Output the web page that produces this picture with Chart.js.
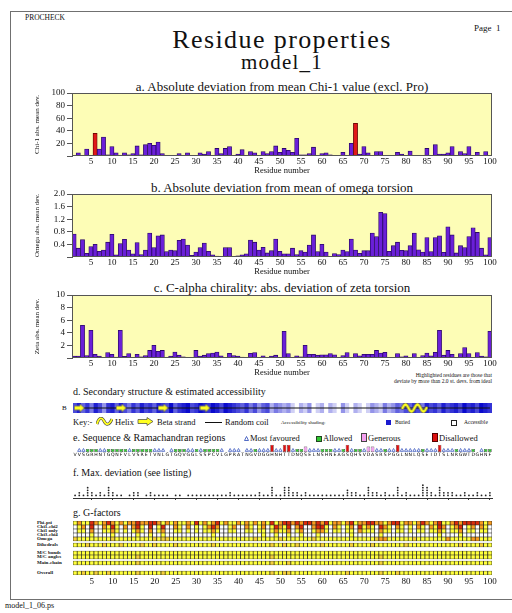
<!DOCTYPE html>
<html>
<head>
<meta charset="utf-8">
<title>Residue properties</title>
<script src="https://cdn.jsdelivr.net/npm/chart.js@4.4.0/dist/chart.umd.min.js"></script>
<style>
    body { margin: 0; width: 512px; height: 613px; position: relative; overflow: hidden; background: #fff; color: #111; font-family: "Liberation Serif", "DejaVu Serif", serif; }
    .t { position: absolute; white-space: nowrap; line-height: 1; }
    .c { transform: translateX(-50%); }
    canvas { position: absolute; }
    #frame { position: absolute; left: 10px; top: 11px; width: 502px; height: 587px; border: 1.5px solid #707070; border-right: none; }
    .sw { position: absolute; }
</style>
</head>
<body>
<div id="frame"></div>

<div class="t" style="left:25px;top:14px;font-size:7.5px">PROCHECK</div>
<div class="t" style="left:474px;top:24px;font-size:9px">Page&nbsp; 1</div>
<div class="t c" style="left:282px;top:27px;font-size:26px;letter-spacing:1.4px">Residue properties</div>
<div class="t c" style="left:282px;top:52px;font-size:21px;letter-spacing:1.2px">model_1</div>

<div class="t c" style="left:282px;top:80px;font-size:13px">a. Absolute deviation from mean Chi-1 value (excl. Pro)</div>
<div class="t c" style="left:282px;top:181px;font-size:13px">b. Absolute deviation from mean of omega torsion</div>
<div class="t c" style="left:282px;top:281px;font-size:13px">c. C-alpha chirality: abs. deviation of zeta torsion</div>
<div class="t" style="right:20px;top:372px;font-size:5.5px;line-height:6px;text-align:right">Highlighted residues are those that<br>deviate by more than 2.0 st. devs. from ideal</div>

<div class="t" style="left:73px;top:387px;font-size:10px">d. Secondary structure &amp; estimated accessibility</div>
<div class="t" style="left:62px;top:405px;font-size:7px">B</div>
<div class="t" style="left:73px;top:418px;font-size:8.5px">Key:-</div>
<svg class="sw" width="17" height="9" style="left:96px;top:417px"><path d="M1,7 C3,0 6,0 8,4 S13,9 16,2" fill="none" stroke="#444" stroke-width="3"/><path d="M1,7 C3,0 6,0 8,4 S13,9 16,2" fill="none" stroke="#ffff20" stroke-width="1.8"/></svg>
<div class="t" style="left:115px;top:418px;font-size:8.5px">Helix</div>
<svg class="sw" width="17" height="9" style="left:137px;top:417px"><polygon points="1,2.5 10,2.5 10,0.5 16,4.5 10,8.5 10,6.5 1,6.5" fill="#ffff20" stroke="#444" stroke-width="0.7"/></svg>
<div class="t" style="left:157px;top:418px;font-size:8.5px">Beta strand</div>
<div class="sw" style="left:205px;top:421.5px;width:17px;height:1.5px;background:#111"></div>
<div class="t" style="left:225px;top:418px;font-size:8.5px">Random coil</div>
<div class="t" style="left:281px;top:420px;font-size:5px">Accessibility shading:</div>
<div class="sw" style="left:386px;top:419.5px;width:5px;height:5px;background:#1a1ad0"></div>
<div class="t" style="left:395px;top:419.5px;font-size:5.5px">Buried</div>
<div class="sw" style="left:451px;top:419.5px;width:4px;height:4px;border:0.8px solid #222;background:#fff"></div>
<div class="t" style="left:464px;top:419.5px;font-size:5.5px">Accessible</div>

<div class="t" style="left:73px;top:433px;font-size:10px">e. Sequence &amp; Ramachandran regions</div>
<svg class="sw" width="5" height="5" style="left:244px;top:435.5px"><polygon points="2.5,0.5 4.5,4.5 0.5,4.5" fill="none" stroke="#2848b8" stroke-width="0.8"/></svg>
<div class="t" style="left:250px;top:434px;font-size:8.5px">Most favoured</div>
<div class="sw" style="left:316px;top:435.5px;width:4px;height:4px;background:#30c830;border:0.6px solid #224422"></div>
<div class="t" style="left:323px;top:434px;font-size:8.5px">Allowed</div>
<div class="sw" style="left:361px;top:433px;width:3.5px;height:7px;background:#f4a0f0;border:0.6px solid #444"></div>
<div class="t" style="left:368px;top:434px;font-size:8.5px">Generous</div>
<div class="sw" style="left:432px;top:433px;width:3.5px;height:7px;background:#dd1010;border:0.6px solid #500"></div>
<div class="t" style="left:439px;top:434px;font-size:8.5px">Disallowed</div>

<div class="t" style="left:73px;top:468px;font-size:10px">f. Max. deviation (see listing)</div>
<div class="t" style="left:73px;top:508px;font-size:10px">g. G-factors</div>
<div id="gLabels"></div>

<div class="t" style="left:5px;top:602px;font-size:8px">model_1_06.ps</div>

<canvas id="chiChart" width="482" height="92" style="left:30px;top:86px"></canvas>
<canvas id="omegaChart" width="482" height="92" style="left:30px;top:187px"></canvas>
<canvas id="zetaChart" width="482" height="92" style="left:30px;top:288px"></canvas>
<canvas id="ssChart" width="512" height="20" style="left:0;top:398px"></canvas>
<canvas id="ramaChart" width="512" height="18" style="left:0;top:440px"></canvas>
<canvas id="devChart" width="512" height="26" style="left:0;top:476px"></canvas>
<canvas id="gChart" width="512" height="68" style="left:0;top:519px"></canvas>

<script>
const residues = Array.from({ length: 100 }, (_, i) => String(i + 1));

// a. chi-1 deviation (degrees)
const chiDev = [
    0, 5, 0, 11, 0, 36, 11, 30, 2, 15,
    5, 0, 5, 2, 4, 16, 2, 18, 20, 17,
    22, 4, 0, 1, 1, 4, 1, 5, 0, 1,
    5, 3, 7, 1, 12, 4, 12, 15, 0, 3,
    10, 1, 7, 5, 1, 7, 4, 7, 16, 6,
    12, 9, 6, 28, 2, 2, 4, 14, 0, 4,
    5, 2, 0, 0, 6, 1, 20, 52, 3, 15,
    5, 0, 7, 7, 1, 0, 0, 6, 3, 0,
    8, 1, 1, 1, 12, 1, 18, 3, 3, 5,
    15, 1, 7, 4, 15, 1, 6, 1, 7, 0
];
const chiHighlighted = [6, 68];

// b. omega deviation
const omegaDev = [
    0.73, 0.28, 0.55, 0.12, 0.33, 0.40, 0.18, 0.22, 0.47, 0.72,
    0.07, 0.43, 0.56, 0.22, 0.10, 0.46, 0.08, 0.22, 0.76, 0.30,
    0.67, 0.70, 0.17, 0.22, 0.20, 0.53, 0.57, 0.38, 0.05, 0.16,
    0.30, 0.44, 0.18, 0.07, 0.03, 0.00, 0.30, 0.30, 0.00, 0.04,
    0.07, 0.10, 0.54, 0.47, 0.22, 0.31, 0.13, 0.20, 0.57, 0.18,
    0.10, 0.10, 0.28, 0.08, 0.20, 0.16, 0.38, 0.70, 0.17, 0.40,
    0.16, 0.00, 0.11, 0.08, 0.22, 0.17, 0.57, 0.22, 0.12, 0.20,
    0.20, 0.76, 0.65, 1.42, 1.38, 0.18, 0.36, 0.47, 0.21, 0.20,
    0.36, 0.76, 0.23, 0.16, 0.62, 0.17, 0.62, 0.67, 0.15, 0.96,
    0.70, 0.13, 0.36, 0.30, 0.65, 0.93, 0.78, 0.28, 0.07, 0.62
];

// c. zeta deviation
const zetaDev = [
    0.3, 0.3, 5.2, 0.4, 4.4, 0.6, 0.3, 0.1, 0.85, 0.6,
    0.15, 4.4, 0.25, 0.7, 0.1, 0.6, 0.2, 0.4, 1.2, 2.0,
    1.05, 1.2, 0, 0.3, 0.95, 0.45, 0.2, 0.1, 0, 1.2,
    0.3, 0.45, 0.7, 0.8, 0.95, 0.35, 0, 0.75, 0.4, 0.3,
    0.15, 0, 0.75, 0.85, 0, 0.35, 0.1, 0.3, 0.45, 0.1,
    4.25, 0.7, 0.1, 0.35, 0.2, 2.0, 0.6, 0.6, 0.45, 0.5,
    0.5, 0.7, 0.5, 0, 0.4, 0.85, 0, 0.7, 0.35, 0.6,
    0.6, 0.6, 1.2, 0.8, 0.9, 0, 0, 0.7, 0.2, 0.35,
    0.1, 0.7, 0, 0.4, 0.8, 0.35, 0.9, 4.4, 0.45, 1.2,
    0.6, 0, 0.7, 1.65, 0.7, 0, 0.85, 0.3, 0.2, 4.25
];

// d. accessibility (0 = accessible, 9 = buried) and secondary structure
const accessibility = [
    6, 8, 5, 7, 4, 8, 6, 3, 7, 8,
    5, 8, 6, 4, 7, 5, 8, 6, 7, 5,
    8, 7, 6, 9, 5, 7, 8, 9, 6, 7,
    9, 8, 7, 9, 8, 6, 9, 8, 7, 6,
    5, 7, 4, 6, 3, 5, 6, 2, 4, 3,
    2, 3, 1, 0, 2, 1, 3, 0, 1, 2,
    0, 2, 1, 0, 3, 1, 0, 2, 1, 0,
    1, 3, 2, 1, 4, 2, 3, 5, 4, 6,
    5, 7, 6, 4, 8, 6, 7, 5, 8, 6,
    7, 8, 6, 9, 7, 8, 6, 9, 8, 7
];
const strandResidues = [2, 12, 22, 32];
const helixResidues = [82];

// e. sequence and Ramachandran regions (A most favoured, B allowed, G generous, D disallowed)
const sequence = "VVSGRHNTGQNFVLVSRETVNLGTGQVGGLSSPCVLGPRATNGVDGGHNHTTDNQSELNSHNEAGSQHSVDASRSPGGLNNLQSEIDTSLNRGWTDGHNF".split("");
const ramaRegions = "-AABBBAABB BBBABBBBBA AA-ABBBAAB ABBBBA-AAA -AABAAADAA DDABBGAAAB BBAABDABBA GGAABAADAA AAABAAADAA ABAAAB-ABB".replace(/ /g, "").split("");

// f. max deviation (stacked markers)
const maxDeviation = [
    1, 2, 1, 4, 2, 1, 2, 1, 4, 2,
    1, 1, 0, 1, 2, 2, 0, 1, 2, 1,
    1, 1, 1, 0, 1, 1, 0, 1, 1, 1,
    1, 1, 1, 1, 1, 1, 1, 2, 1, 1,
    1, 1, 1, 1, 2, 1, 1, 4, 1, 1,
    4, 4, 2, 2, 1, 2, 1, 1, 1, 1,
    1, 1, 1, 1, 1, 3, 2, 2, 1, 1,
    4, 2, 2, 1, 2, 1, 1, 4, 1, 2,
    1, 1, 1, 5, 4, 2, 1, 4, 2, 2,
    2, 1, 1, 2, 1, 1, 2, 1, 1, 2
];
const devLevels = [1, 2, 3, 4, 5];

// g. G-factor classes (Y good, L fair, O poor, R bad, W none)
const gPhiPsi   = "YOYYROYORO YOYOOROORR OYOYOYYOYR YOYORYOYYO YOYOYOYRYO RRORORRORO RYOOYORYOO RROOYORRYO OYOROYORYY ORORRRROYO";
const gChi1Chi2 = "WYOWRWWOYR YWOWORYWRW YRWWOYWOWY WYOROWWYOW WOYWYOWYRO YRWORWWORR YWOYWYOWRY OYWROYWOYW YWOYWOYROW YORWYOWOYW";
const gChi1Only = "WYYWOWWYYO YWYWYOYWOW YOWWYYWYWY WYYOYWWYYW WYYWYYWYOY YOWYOWWYOO YWYYWYYWOY YYWOYYWYYW YWYYWYYOYW YYOWYYWYYW";
const gChi3Chi4 = "WWWWYWWWWY WWWWWYWWYW WYWWWWWWWW WWWYWWWWWW WWWWWYWWYW WYWWYWWWYW WWWWWWYWWW WWWYWWWWWW WWWWWWWYWW WWYWWWWWWW";
const gOmega    = "LYYYYYYYYL YYYYYYYYYL YLLYYYYYYY YYYYYYYYYY YYYLYYYYYL YYYYYYYLYY YYYYYYYYYY YYLOOYYYYY YLYYYYYYYO YYYYYOOYYY";
const gDihedral = "YYYLYYYLYY YLYYYYLYYL YYYYLYYYYY YYYLYYYYYY YYYYYYYLYY LYYLYYYYYL YYYYYYLYYY YLYYYYYYYL YYYYYYYYYY YYLYYYYLYY";
const gMcBonds  = "YYYYYYYYYY YYYYYYYYYY YYYYYYYYYY YYYYYYYYYY YYYYYYYYYY YYYYYYYYYY YYYYYYYYYY YYYYYYYYYY YYYYYYYYYY YYYYYYYYYY";
const gMcAngles = "YYYYYYYYYY YYYYYLYYYY YYYYYYYYYY YYYYYYYYYY YYYYYYYLYY YYYYYYYYYY YYYYYYYYYY YYYLYYYYYY YYYYYYYYYY YYYYYYYYYY";
const gMainMain = "YYYYYYYYYY YYYYYLYYYY YYYYYYYYYY YYYYYYYYYY YYYYYYYLYY YLYYYYYYYY YYYYYYYYYY YYYLYYYYYY YYYYYYYYYY YYYYYYYYYY";
const gOverall  = "YYLYYLYYLY YYYYYLYYYY YLYYYYYYYY YYYYYYYYYY YYYYYYYLYY LLYYYYYYYY YYYYYLYYYY YYYLYYYLYY YYYYYYYLYY YYYYYYYYYY";

Chart.defaults.font.family = '"Liberation Serif", "DejaVu Serif", serif';
Chart.defaults.color = "#111";
Chart.defaults.animation = false;
Chart.defaults.responsive = false;
Chart.defaults.events = [];
Chart.defaults.plugins.legend.display = false;
Chart.defaults.plugins.tooltip.enabled = false;

const plotBox = (fill, stroke) => ({
    id: "plotBox",
    beforeDraw(chart) {
        const { ctx, chartArea: a } = chart;
        ctx.save();
        ctx.fillStyle = fill;
        ctx.fillRect(a.left, a.top, a.width, a.height);
        ctx.restore();
    },
    afterDatasetsDraw(chart) {
        const { ctx, chartArea: a } = chart;
        ctx.save();
        ctx.strokeStyle = stroke;
        ctx.lineWidth = 1;
        ctx.strokeRect(a.left + 0.5, a.top + 0.5, a.width - 1, a.height - 1);
        ctx.restore();
    }
});

const everyFifth = (v, i) => (i + 1) % 5 === 0 ? residues[i] : "";

const makeDevChart = (id, values, yMax, yStep, decimals, yTitle, highlighted) => {
    const isHot = (i) => highlighted.includes(i + 1);

    return new Chart(document.getElementById(id), {
        type: "bar",
        data: {
            labels: residues,
            datasets: [{
                data: values,
                backgroundColor: values.map((v, i) => isHot(i) ? "#e01818" : "#6a1fd8"),
                borderColor: values.map((v, i) => isHot(i) ? "#5a0000" : "#2a0866"),
                borderWidth: 0.8,
                barPercentage: 1,
                categoryPercentage: 1
            }]
        },
        options: {
            layout: { padding: { top: 7, right: 20 } },
            scales: {
                x: {
                    grid: { display: false, drawTicks: false },
                    border: { display: false },
                    ticks: { autoSkip: false, maxRotation: 0, padding: 0, font: { size: 9 }, callback: everyFifth },
                    title: { display: true, text: "Residue number", font: { size: 8.5 }, padding: { top: 0, bottom: 2 } },
                    afterFit: (s) => { s.height = 22; s.paddingLeft = 0; s.paddingRight = 0; }
                },
                y: {
                    min: 0,
                    max: yMax,
                    grid: { drawOnChartArea: false, tickLength: 5, color: "#555" },
                    border: { color: "#555" },
                    ticks: {
                        stepSize: yStep,
                        autoSkip: false,
                        padding: 2,
                        font: { size: 9 },
                        callback: (v) => v === 0 ? "" : v.toFixed(decimals)
                    },
                    title: { display: true, text: yTitle, font: { size: 7 }, padding: { top: 3, bottom: 0 } },
                    afterFit: (s) => { s.width = 42; s.paddingTop = 0; s.paddingBottom = 0; }
                }
            }
        },
        plugins: [plotBox("#fdfdb6", "#555")]
    });
};

makeDevChart("chiChart", chiDev, 100, 20, 0, "Chi-1 abs. mean dev.", chiHighlighted);
makeDevChart("omegaChart", omegaDev, 2.0, 0.4, 1, "Omega abs. mean dev.", []);
makeDevChart("zetaChart", zetaDev, 10, 2, 0, "Zeta abs. mean dev.", []);

// small images used as point styles for the secondary structure strip
const arrowImg = (() => {
    const c = document.createElement("canvas");
    c.width = 11;
    c.height = 9;
    const g = c.getContext("2d");
    g.beginPath();
    g.moveTo(0.5, 2.5); g.lineTo(6, 2.5); g.lineTo(6, 0.5); g.lineTo(10.5, 4.5);
    g.lineTo(6, 8.5); g.lineTo(6, 6.5); g.lineTo(0.5, 6.5); g.closePath();
    g.fillStyle = "#ffff20";
    g.fill();
    g.strokeStyle = "#666";
    g.lineWidth = 0.7;
    g.stroke();
    return c;
})();

const helixImg = (() => {
    const c = document.createElement("canvas");
    c.width = 28;
    c.height = 12;
    const g = c.getContext("2d");
    const wave = () => {
        g.beginPath();
        for (let x = 2; x <= 26; x += 0.5) {
            const y = 6 - 3.5 * Math.sin((x - 2) / 24 * 4 * Math.PI);
            x === 2 ? g.moveTo(x, y) : g.lineTo(x, y);
        }
    };
    g.lineCap = "round";
    wave(); g.strokeStyle = "#555"; g.lineWidth = 3.6; g.stroke();
    wave(); g.strokeStyle = "#ffff20"; g.lineWidth = 2.2; g.stroke();
    return c;
})();

const shade = (v) => {
    const t = Math.pow(v / 9, 0.75);
    const rg = Math.round(255 - t * 245);
    const b = Math.round(255 - t * 50);
    return `rgb(${rg},${rg},${b})`;
};

const stripLayout = (top, bottom) => ({ padding: { left: 73, right: 20, top: top, bottom: bottom } });

new Chart(document.getElementById("ssChart"), {
    type: "bar",
    data: {
        labels: residues,
        datasets: [
            {
                type: "line",
                data: residues.map((r) => strandResidues.includes(+r) ? 0.5 : null),
                showLine: false,
                pointStyle: arrowImg,
                order: 1
            },
            {
                type: "line",
                data: residues.map((r) => helixResidues.includes(+r) ? 0.5 : null),
                showLine: false,
                pointStyle: helixImg,
                order: 1
            },
            {
                type: "line",
                data: residues.map(() => 0.5),
                borderColor: "#111",
                borderWidth: 1.2,
                pointRadius: 0,
                order: 2
            },
            {
                data: accessibility.map(() => 1),
                backgroundColor: accessibility.map(shade),
                borderWidth: 0,
                barPercentage: 1,
                categoryPercentage: 1,
                order: 3
            }
        ]
    },
    options: {
        layout: stripLayout(3, 3),
        scales: {
            x: { display: false, offset: true },
            y: { display: false, min: 0, max: 1 }
        }
    }
});

const regionHeight = { D: 1, G: 0.75, B: 0.42 };
const regionFill = { D: "#dd1010", G: "#f4a0f0", B: "#30c830" };

new Chart(document.getElementById("ramaChart"), {
    type: "bar",
    data: {
        labels: sequence,
        datasets: [
            {
                type: "line",
                data: ramaRegions.map((c) => c === "A" ? 0.22 : null),
                showLine: false,
                pointStyle: "triangle",
                pointRadius: 1.9,
                pointBorderColor: "#2848b8",
                pointBackgroundColor: "rgba(0,0,0,0)",
                pointBorderWidth: 0.7,
                order: 1
            },
            {
                data: ramaRegions.map((c) => regionHeight[c] ? [0, regionHeight[c]] : null),
                backgroundColor: ramaRegions.map((c) => regionFill[c] || "transparent"),
                borderColor: "#333",
                borderWidth: 0.6,
                borderSkipped: false,
                barPercentage: 0.85,
                categoryPercentage: 1,
                order: 2
            }
        ]
    },
    options: {
        layout: stripLayout(3, 0),
        scales: {
            x: {
                grid: { display: false, drawTicks: false },
                border: { display: false },
                ticks: { autoSkip: false, maxRotation: 0, minRotation: 0, padding: 0.5, color: "#000", font: { size: 4.6, family: '"DejaVu Sans", sans-serif' } },
                afterFit: (s) => { s.height = 6; s.paddingLeft = 0; s.paddingRight = 0; }
            },
            y: { display: false, min: 0, max: 1 }
        }
    }
});

new Chart(document.getElementById("devChart"), {
    type: "line",
    data: {
        labels: residues,
        datasets: devLevels.map((k) => ({
            data: maxDeviation.map((v) => v >= k ? k : null),
            showLine: false,
            pointRadius: 0.9,
            pointBackgroundColor: "#222",
            pointBorderWidth: 0
        }))
    },
    options: {
        layout: stripLayout(2, 2),
        scales: {
            x: {
                offset: true,
                ticks: { display: false },
                grid: {
                    drawOnChartArea: false,
                    offset: false,
                    tickLength: 2,
                    color: (ctx) => (ctx.index + 1) % 5 === 0 ? "#333" : "rgba(0,0,0,0)"
                },
                border: { color: "#333" },
                afterFit: (s) => { s.paddingLeft = 0; s.paddingRight = 0; }
            },
            y: { display: false, min: 0, max: 7 }
        }
    }
});

// G-factor rows from bottom to top; gaps keep the block spacing
const gColours = { Y: "#ffff3c", L: "#f4d03a", O: "#f99c1e", R: "#dd2a0a", W: "#ffffff" };
const gRows = [
    { label: "Overall", codes: gOverall, h: 4 },
    { h: 6 },
    { label: "Main-chain", codes: gMainMain, h: 4 },
    { h: 2 },
    { label: "M/C angles", codes: gMcAngles, h: 4 },
    { label: "M/C bonds", codes: gMcBonds, h: 4 },
    { h: 4 },
    { label: "Dihedrals", codes: gDihedral, h: 4 },
    { h: 2 },
    { label: "Omega", codes: gOmega, h: 4 },
    { label: "Chi3-chi4", codes: gChi3Chi4, h: 4 },
    { label: "Chi1 only", codes: gChi1Only, h: 4 },
    { label: "Chi1-chi2", codes: gChi1Chi2, h: 4 },
    { label: "Phi-psi", codes: gPhiPsi, h: 4 }
];

const gChart = new Chart(document.getElementById("gChart"), {
    type: "bar",
    data: {
        labels: residues,
        datasets: gRows.map((row) => {
            const codes = row.codes ? row.codes.replace(/ /g, "").split("") : residues.map(() => null);
            return {
                data: residues.map(() => row.h),
                backgroundColor: codes.map((c) => c ? gColours[c] : "transparent"),
                borderColor: row.codes ? "#222" : "transparent",
                borderWidth: row.codes ? 0.7 : 0,
                borderSkipped: false,
                barPercentage: 1,
                categoryPercentage: 1
            };
        })
    },
    options: {
        layout: stripLayout(2, 0),
        scales: {
            x: {
                stacked: true,
                grid: { display: false, drawTicks: false },
                border: { display: false },
                ticks: { autoSkip: false, maxRotation: 0, padding: 1, font: { size: 9 }, callback: everyFifth },
                afterFit: (s) => { s.height = 12; s.paddingLeft = 0; s.paddingRight = 0; }
            },
            y: { display: false, stacked: true, min: 0, max: 54 }
        }
    }
});

// row labels placed against the chart's own y scale
const gLabels = document.getElementById("gLabels");
let base = 0;
gRows.forEach((row) => {
    const mid = base + row.h / 2;
    base += row.h;
    if (!row.label) return;
    const div = document.createElement("div");
    div.className = "t";
    div.style.left = "37px";
    div.style.top = (519 + gChart.scales.y.getPixelForValue(mid) - 2.6) + "px";
    div.style.fontSize = "5px";
    div.style.fontWeight = "bold";
    div.textContent = row.label;
    gLabels.appendChild(div);
});
</script>
</body>
</html>
